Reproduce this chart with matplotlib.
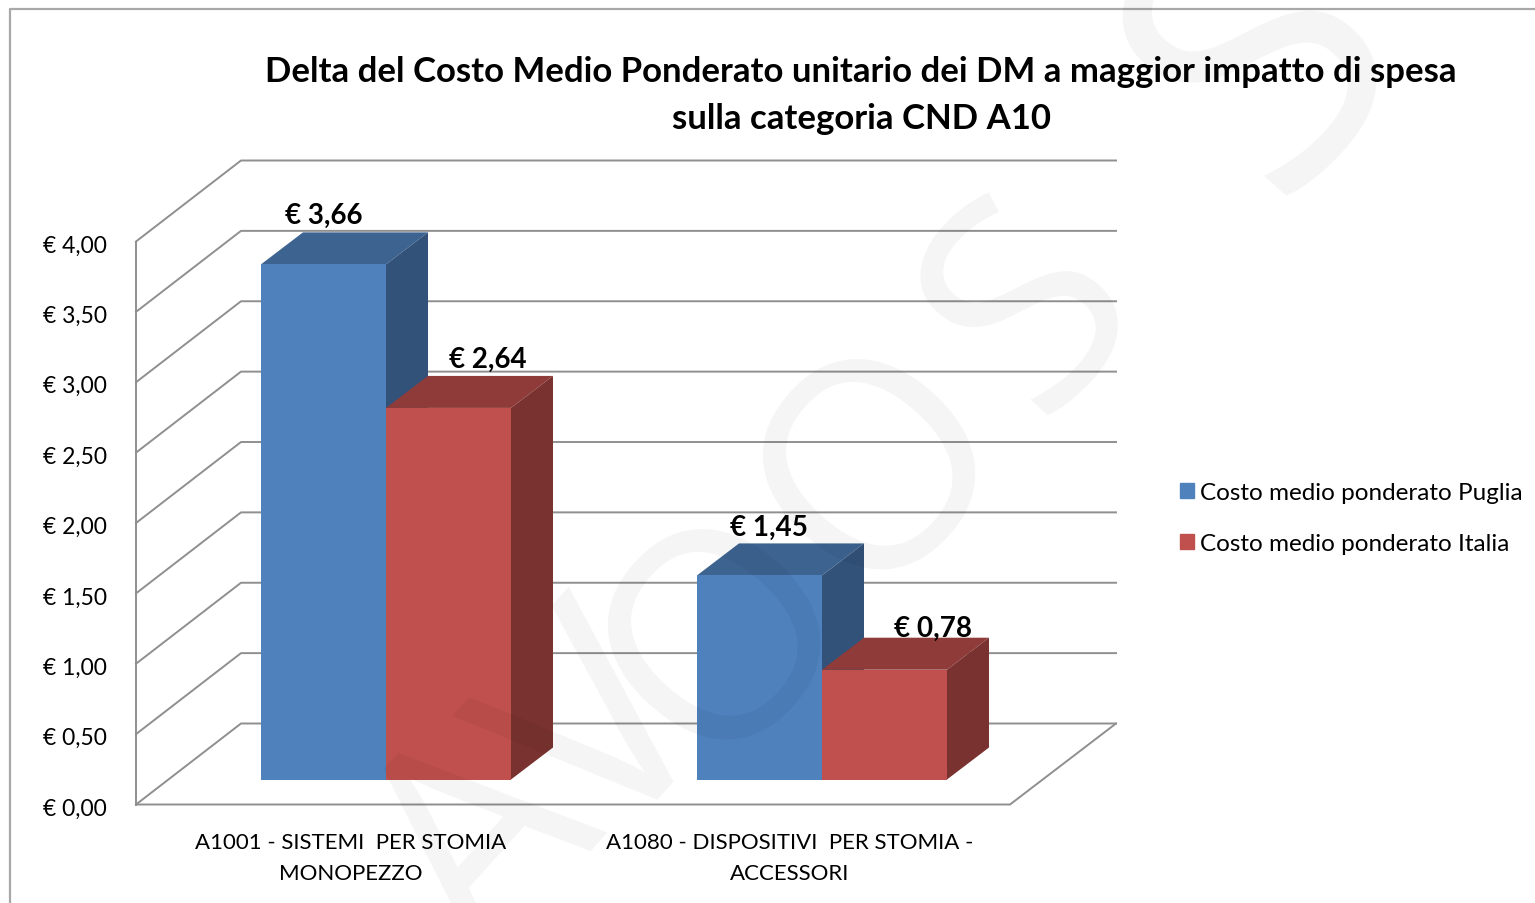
import matplotlib
matplotlib.use('Agg')
import matplotlib.pyplot as plt
from matplotlib.patches import Polygon, Patch

categories = ['A1001 - SISTEMI  PER STOMIA\nMONOPEZZO', 'A1080 - DISPOSITIVI  PER STOMIA -\nACCESSORI']
puglia = [3.66, 1.45]
italia = [2.64, 0.78]
series_names = ['Costo medio ponderato Puglia', 'Costo medio ponderato Italia']
y_ticks = [0, 0.5, 1, 1.5, 2, 2.5, 3, 3.5, 4]
title = 'Delta del Costo Medio Ponderato unitario dei DM a maggior impatto di spesa\nsulla categoria CND A10'
watermark = 'AVOOSS'


def euro(v):
    return '€ ' + f'{v:.2f}'.replace('.', ',')


plt.rcParams['font.family'] = ['Lato', 'DejaVu Sans']
fig = plt.figure(figsize=(15.35, 9.04), dpi=100)
ax = fig.add_axes([0, 0, 1, 1])

# one value unit = 140.75 px, value 0 sits on pixel row 805
scale = 140.75
zero_row = 805.5
ax.set_xlim(0, 1535)
ax.set_ylim(-(904 - zero_row) / scale, zero_row / scale)
ax.axis('off')


def row(r):
    # pixel row -> value axis, for things placed by page position
    return (zero_row - r) / scale


grid = '#8f8f8f'
left, right = 136, 1010
wall_dx, wall_dy = 105, 81 / scale
bar_dx, bar_dy = 42, 32 / scale
base = 25 / scale
bar_w = 125
group_x = [261, 697]
cat_x = [351, 790]

# frame
ax.plot([10, 10, 1535], [row(904), row(10), row(10)], color='#a8a8a8', lw=1.6)

# walls and floor
for v in y_ticks:
    ax.plot([left, left + wall_dx, 1116], [v, v + wall_dy, v + wall_dy], color=grid, lw=1.4, zorder=1)
    ax.text(107, v - 3.5 / scale, euro(v), ha='right', va='center', fontsize=16.5)
ax.plot([left, left], [0, 4], color=grid, lw=1.4, zorder=1)
ax.plot([left, right, 1116], [0, 0, wall_dy], color=grid, lw=1.4, zorder=1)


def bar3d(x, v, front, top, side):
    y0 = base
    y1 = base + v
    ax.add_patch(Polygon([(x, y1), (x + bar_w, y1), (x + bar_w + bar_dx, y1 + bar_dy), (x + bar_dx, y1 + bar_dy)],
                         color=top, lw=0, zorder=2))
    ax.add_patch(Polygon([(x + bar_w, y0), (x + bar_w + bar_dx, y0 + bar_dy), (x + bar_w + bar_dx, y1 + bar_dy), (x + bar_w, y1)],
                         color=side, lw=0, zorder=2))
    ax.add_patch(Polygon([(x, y0), (x + bar_w, y0), (x + bar_w, y1), (x, y1)],
                         color=front, lw=0, zorder=3))


blue = ['#4f81bd', '#3d6390', '#325279']
red = ['#c0504d', '#8f3b39', '#79322f']
label_shift = [[0, 39], [9, 49]]
label_up = [[49, 49], [49, 42]]
for i, gx in enumerate(group_x):
    bar3d(gx, puglia[i], *blue)
    bar3d(gx + bar_w, italia[i], *red)
    for j, v in enumerate([puglia[i], italia[i]]):
        ax.text(gx + bar_w * j + bar_w / 2 + label_shift[i][j], base + v + label_up[i][j] / scale, euro(v),
                ha='center', va='center', fontsize=20, fontweight='bold', zorder=5)
    ax.text(cat_x[i], row(833), categories[i], ha='center', va='top', fontsize=16,
            linespacing=1.67, zorder=5)

ax.text(861, row(95.5), title, ha='center', va='center', fontsize=25, fontweight='bold',
        linespacing=1.56, zorder=5)

handles = [Patch(color=blue[0], label=series_names[0]), Patch(color=red[0], label=series_names[1])]
ax.legend(handles=handles, loc='upper left', bbox_to_anchor=(1170 / 1535, 1 - 473 / 904), frameon=False,
          fontsize=17.5, handlelength=0.58, handleheight=0.58, handletextpad=0.25, labelspacing=1.25,
          borderaxespad=0)

# watermark on top of everything, letters set one by one
mark_x = [490, 610, 730, 885, 1035, 1270]
mark_row = [850, 740, 640, 470, 310, 60]
mark_size = [210, 210, 210, 210, 210, 270]
for ch, mx, mr, ms in zip(watermark, mark_x, mark_row, mark_size):
    ax.text(mx, row(mr), ch, rotation=48, rotation_mode='anchor', ha='center', va='center',
            fontsize=ms, color='black', alpha=0.045, family='Open Sans', zorder=10, clip_on=True)

fig.savefig('out.png', dpi=100)
